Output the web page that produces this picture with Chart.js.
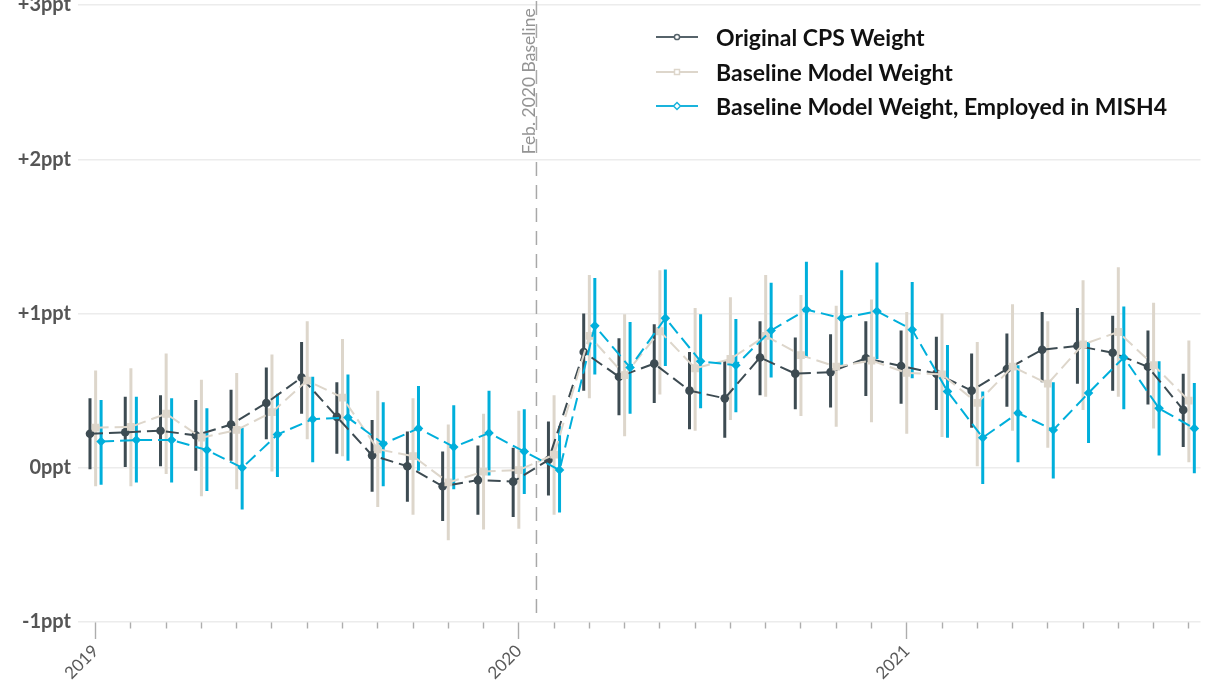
<!DOCTYPE html>
<html>
<head>
<meta charset="utf-8">
<script src="https://cdn.jsdelivr.net/npm/chart.js@4.4.1/dist/chart.umd.min.js"></script>
<style>
  html, body { margin: 0; padding: 0; background: #fff; overflow: hidden; }
  #wrap { position: absolute; left: 0; top: -14px; width: 1206px; height: 695px; }
  #legend { position: absolute; left: 656px; top: 20px; font-family: Lato, sans-serif; font-weight: bold; font-size: 23px; color: #111; }
  #legend .row { height: 34.5px; display: flex; align-items: center; white-space: nowrap; }
  #legend svg { margin-right: 18px; }
</style>
</head>
<body>
<div id="wrap"><canvas id="weightChart"></canvas></div>
<div id="legend"></div>
<script>
// months Jan 2019 .. Aug 2021
const months = ['Jan 2019','Feb 2019','Mar 2019','Apr 2019','May 2019','Jun 2019','Jul 2019','Aug 2019','Sep 2019','Oct 2019','Nov 2019','Dec 2019',
                'Jan 2020','Feb 2020','Mar 2020','Apr 2020','May 2020','Jun 2020','Jul 2020','Aug 2020','Sep 2020','Oct 2020','Nov 2020','Dec 2020',
                'Jan 2021','Feb 2021','Mar 2021','Apr 2021','May 2021','Jun 2021','Jul 2021','Aug 2021'];
const yearTickIndex = [0, 12, 23];
const yearTickLabels = ['2019', '2020', '2021'];
const baselineIndex = 12.5;
const baselineLabel = 'Feb. 2020 Baseline';

const seriesNames = ['Original CPS Weight', 'Baseline Model Weight', 'Baseline Model Weight, Employed in MISH4'];

const cpsVal  = [0.22,0.23,0.24,0.21,0.28,0.42,0.585,0.33,0.08,0.01,-0.12,-0.08,-0.09,0.05,0.75,0.59,0.675,0.5,0.45,0.715,0.61,0.62,0.71,0.66,0.61,0.5,0.64,0.765,0.79,0.745,0.655,0.375];
const cpsLow  = [-0.01,0.0,0.01,-0.02,0.045,0.185,0.35,0.09,-0.155,-0.22,-0.345,-0.305,-0.32,-0.18,0.5,0.34,0.42,0.25,0.195,0.47,0.38,0.39,0.465,0.415,0.375,0.26,0.395,0.555,0.545,0.5,0.41,0.135];
const cpsHigh = [0.45,0.46,0.47,0.44,0.505,0.65,0.815,0.555,0.31,0.235,0.105,0.145,0.13,0.3,1.0,0.84,0.93,0.75,0.69,0.95,0.845,0.865,0.95,0.89,0.85,0.74,0.87,1.01,1.035,0.985,0.89,0.61];

const baseVal  = [0.26,0.265,0.35,0.195,0.245,0.36,0.565,0.455,0.12,0.075,-0.095,-0.025,-0.015,0.085,0.855,0.6,0.885,0.645,0.705,0.855,0.73,0.655,0.695,0.615,0.605,0.42,0.655,0.545,0.8,0.88,0.665,0.435];
const baseLow  = [-0.12,-0.12,-0.04,-0.185,-0.14,-0.025,0.185,0.075,-0.255,-0.305,-0.47,-0.4,-0.395,-0.305,0.45,0.205,0.475,0.24,0.31,0.46,0.335,0.265,0.295,0.22,0.2,0.01,0.24,0.13,0.375,0.46,0.255,0.035];
const baseHigh = [0.63,0.645,0.74,0.57,0.615,0.735,0.95,0.835,0.5,0.45,0.28,0.35,0.37,0.47,1.25,0.995,1.28,1.035,1.105,1.25,1.12,1.05,1.09,1.01,1.0,0.815,1.06,0.95,1.215,1.3,1.07,0.825];

const mishVal  = [0.17,0.18,0.18,0.115,0.0,0.215,0.315,0.325,0.155,0.255,0.135,0.225,0.105,-0.015,0.92,0.65,0.97,0.69,0.665,0.89,1.025,0.97,1.015,0.895,0.495,0.195,0.355,0.245,0.485,0.715,0.385,0.255];
const mishLow  = [-0.11,-0.095,-0.095,-0.15,-0.27,-0.06,0.035,0.045,-0.12,-0.02,-0.14,-0.05,-0.17,-0.29,0.605,0.35,0.66,0.385,0.36,0.585,0.715,0.665,0.705,0.58,0.195,-0.105,0.035,-0.07,0.16,0.38,0.08,-0.035];
const mishHigh = [0.44,0.46,0.45,0.385,0.26,0.48,0.59,0.605,0.425,0.53,0.405,0.5,0.38,0.27,1.23,0.945,1.285,0.995,0.965,1.2,1.335,1.28,1.33,1.205,0.795,0.495,0.665,0.555,0.815,1.045,0.69,0.55];

const darkColor = '#3d4b52';
const beigeColor = '#ddd6cb';
const blueColor = '#00afdb';
const dodge = [-0.16, 0, 0.155];

function linePoints(vals, off) {
    return vals.map((v, i) => ({x: i + off, y: v}));
}

function rangeBars(low, high, off) {
    return low.map((l, i) => ({x: i + off, y: [l, high[i]]}));
}

function lineSet(label, vals, off, color, style, radius, order) {
    return {
        type: 'line', label: label, data: linePoints(vals, off),
        borderColor: color, backgroundColor: color, borderWidth: 2, borderDash: [13, 6],
        pointStyle: style, pointRadius: radius, pointBorderWidth: 0, order: order
    };
}

function barSet(low, high, off, color, order) {
    return {
        type: 'bar', data: rangeBars(low, high, off),
        backgroundColor: color, borderWidth: 0, barThickness: 3, inflateAmount: 0, grouped: false, order: order
    };
}

// dashed reference line at the baseline month, with its rotated label
const baselinePlugin = {
    id: 'baseline',
    beforeDatasetsDraw(chart) {
        const {ctx, chartArea, scales} = chart;
        const x = scales.x.getPixelForValue(baselineIndex);
        ctx.save();
        ctx.strokeStyle = '#a8a8a8';
        ctx.lineWidth = 1.5;
        ctx.setLineDash([14, 9]);
        ctx.beginPath();
        ctx.moveTo(x, chartArea.top - 4);
        ctx.lineTo(x, chartArea.bottom);
        ctx.stroke();
        ctx.setLineDash([]);
        ctx.translate(x - 1.5, scales.y.getPixelForValue(2) - 5);
        ctx.rotate(-Math.PI / 2);
        ctx.fillStyle = '#949494';
        ctx.font = '17.5px Lato';
        ctx.textAlign = 'left';
        ctx.textBaseline = 'alphabetic';
        ctx.fillText(baselineLabel, 0, 0);
        ctx.restore();
    }
};

const ctx = document.getElementById('weightChart').getContext('2d');
const weightChart = new Chart(ctx, {
    type: 'line',
    plugins: [baselinePlugin],
    data: {
        datasets: [
            lineSet(seriesNames[2], mishVal, dodge[2], blueColor, 'rectRot', 4.8, 1),
            lineSet(seriesNames[1], baseVal, dodge[1], beigeColor, 'rect', 5.5, 2),
            lineSet(seriesNames[0], cpsVal, dodge[0], darkColor, 'circle', 4.3, 3),
            barSet(mishLow, mishHigh, dodge[2], blueColor, 4),
            barSet(baseLow, baseHigh, dodge[1], beigeColor, 5),
            barSet(cpsLow, cpsHigh, dodge[0], darkColor, 6)
        ]
    },
    options: {
        responsive: true,
        maintainAspectRatio: false,
        animation: false,
        layout: {padding: 0},
        plugins: {
            legend: {display: false},
            tooltip: {enabled: false}
        },
        scales: {
            x: {
                type: 'linear',
                min: -0.5,
                max: 31.33,
                offset: false,
                afterBuildTicks: (scale) => {
                    scale.ticks = months.map((m, i) => ({value: i}));
                },
                afterFit: (scale) => { scale.height = 59; },
                grid: {
                    offset: false,
                    drawOnChartArea: false,
                    tickLength: 17,
                    tickColor: '#adadad',
                    tickWidth: 1.4,
                    tickBorderDash: (c) => yearTickIndex.includes(c.index) ? [] : [6.5, 30]
                },
                border: {display: false},
                ticks: {
                    autoSkip: false,
                    maxRotation: 45,
                    minRotation: 45,
                    padding: 2,
                    color: '#5a5a5a',
                    font: {family: 'Lato', size: 17},
                    callback: (v) => {
                        const k = yearTickIndex.indexOf(v);
                        return k >= 0 ? yearTickLabels[k] : '';
                    }
                }
            },
            y: {
                min: -1,
                max: 3,
                afterFit: (scale) => { scale.width = 78; },
                grid: {color: '#ececec', lineWidth: 1.5, drawTicks: false},
                border: {display: false},
                ticks: {
                    stepSize: 1,
                    padding: 7,
                    color: '#555',
                    font: {family: 'Lato', size: 20, weight: 'bold'},
                    callback: (v) => (v > 0 ? '+' : '') + v + 'ppt'
                }
            }
        }
    }
});

// legend rows
const legendMarks = [
    {color: '#56636a', shape: '<circle cx="21" cy="7" r="2.6" fill="#fff" stroke="#56636a" stroke-width="1.5"/>'},
    {color: beigeColor, shape: '<rect x="18.5" y="4.5" width="5" height="5" fill="#fff" stroke="' + beigeColor + '" stroke-width="1.5"/>'},
    {color: '#1ab3dc', shape: '<polygon points="21,3.5 24.5,7 21,10.5 17.5,7" fill="#fff" stroke="#1ab3dc" stroke-width="1.5"/>'}
];
const legendEl = document.getElementById('legend');
seriesNames.forEach((name, i) => {
    const row = document.createElement('div');
    row.className = 'row';
    row.innerHTML = '<svg width="42" height="14"><line x1="0" y1="7" x2="42" y2="7" stroke="' + legendMarks[i].color + '" stroke-width="2"/>' +
        legendMarks[i].shape + '</svg><span>' + name + '</span>';
    legendEl.appendChild(row);
});
</script>
</body>
</html>
